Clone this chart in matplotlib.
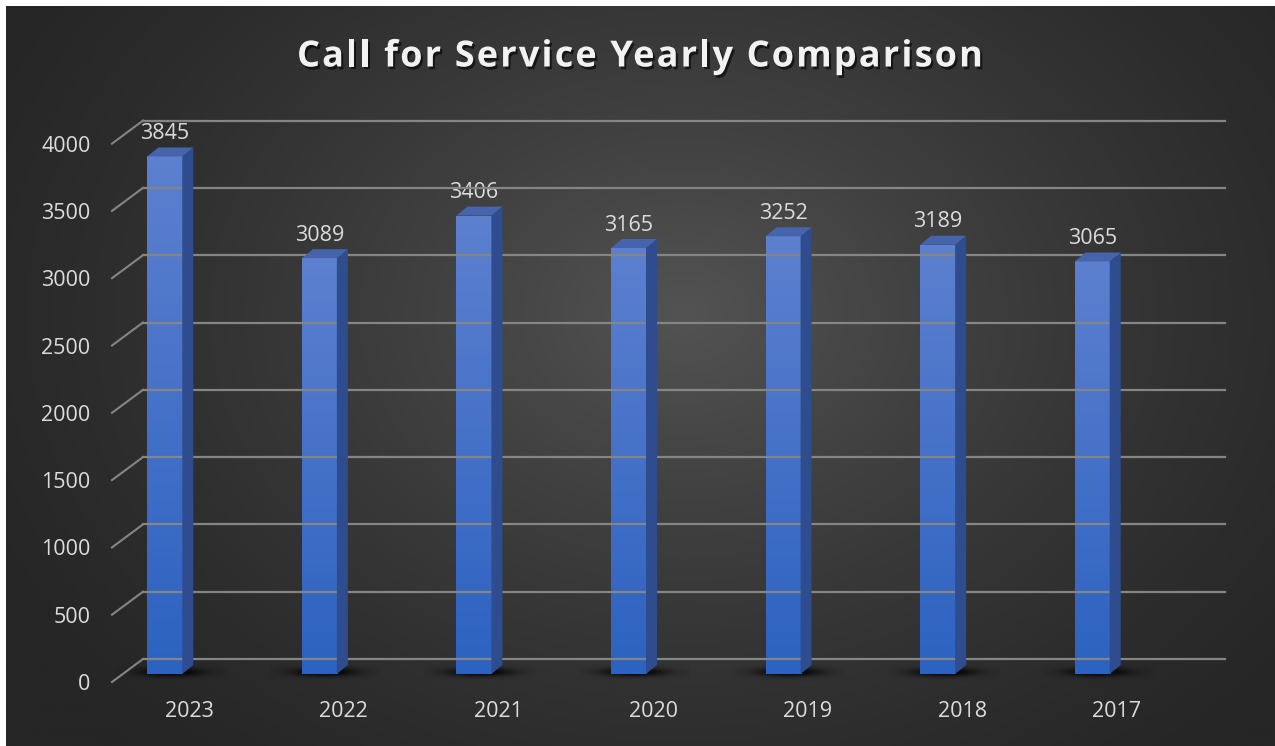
import numpy as np
import matplotlib
matplotlib.use("Agg")
import matplotlib.pyplot as plt
from matplotlib import transforms
from matplotlib.patches import Polygon
from matplotlib.lines import Line2D
import matplotlib.patheffects as pe

# ---- data ----
years = ["2023", "2022", "2021", "2020", "2019", "2018", "2017"]
calls = [3845, 3089, 3406, 3165, 3252, 3189, 3065]
y_ticks = [0, 500, 1000, 1500, 2000, 2500, 3000, 3500, 4000]
title = "Call for Service Yearly Comparison"

W, H = 1275, 746
plt.rcParams["font.family"] = ["Open Sans", "DejaVu Sans"]

fig = plt.figure(figsize=(W / 100, H / 100), dpi=100)
fig.patch.set_facecolor("white")
renderer = fig.canvas.get_renderer()

# ---- dark radial-gradient panel (pixel coordinates) ----
bg = fig.add_axes([0, 0, 1, 1])
bg.set_xlim(0, W)
bg.set_ylim(H, 0)
bg.axis("off")
yy, xx = np.mgrid[0:H, 0:W]
r = np.sqrt(((xx - 680) / (W * 0.62)) ** 2 + ((yy - 310) / (H * 0.80)) ** 2)
r = np.clip(r, 0, 1)
shade = (38 + 45 * (1 - r) ** 1.35) / 255.0
panel = np.dstack([shade, shade, shade])
bg.imshow(panel, extent=[6, W, H, 6], interpolation="bilinear", aspect="auto", zorder=0)

# ---- main axes: front edge of the floor ----
left_px, right_px = 112, 1194
bottom_px, top_px = 682, 143.6
ax = fig.add_axes([left_px / W, (H - bottom_px) / H,
                   (right_px - left_px) / W, (bottom_px - top_px) / H])
ax.patch.set_alpha(0)
ax.set_xlim(-0.5, len(years) - 0.5)
ax.set_ylim(0, 4000)
for s in ax.spines.values():
    s.set_visible(False)

label_color = "#dcdcdc"
label_size = 15.5
ax.set_yticks(y_ticks)
ax.set_yticklabels([str(t) for t in y_ticks])
ax.tick_params(axis="y", length=0, pad=15.5, labelsize=label_size, labelcolor=label_color)
ax.set_xticks(range(len(years)))
ax.set_xticklabels(years)
ax.tick_params(axis="x", length=0, pad=14, labelsize=label_size, labelcolor=label_color)

# depth offsets in display pixels
wall_dx, wall_dy = 31, 23     # back wall relative to front floor edge
bar_dx, bar_dy = -24.5, 8     # bar fronts relative to front floor edge
side_dx, side_dy = 11, 9      # bar depth (side / top faces)

to_disp = ax.transData
grid_color = "#858585"
for v in y_ticks:
    x0, y0 = to_disp.transform((-0.5, v))
    x1, y1 = to_disp.transform((len(years) - 0.5, v))
    # diagonal along the side wall
    fig.add_artist(Line2D([x0, x0 + wall_dx], [y0, y0 + wall_dy],
                          transform=transforms.IdentityTransform(),
                          color=grid_color, lw=1.5, zorder=1))
    # back wall line
    fig.add_artist(Line2D([x0 + wall_dx, x1 + wall_dx], [y0 + wall_dy, y1 + wall_dy],
                          transform=transforms.IdentityTransform(),
                          color=grid_color, lw=1.6, zorder=1))

bar_trans = transforms.offset_copy(ax.transData, fig=fig, x=bar_dx, y=bar_dy, units="dots")
bar_w = 0.2265

# soft floor shadow blob
sy, sx = np.mgrid[-1:1:60j, -1:1:200j]
blob = np.exp(-((sx / 0.7) ** 2 + (sy / 0.55) ** 2) * 1.6)
shadow_img = np.zeros((60, 200, 4))
shadow_img[..., 3] = np.clip(blob * 1.1, 0, 0.95)

front_grad = np.linspace(0, 1, 256)[:, None]
top_col = np.array([93, 128, 207]) / 255
bot_col = np.array([44, 98, 192]) / 255
front_img = (top_col[None, None, :] * (1 - front_grad[..., None]) +
             bot_col[None, None, :] * front_grad[..., None])

for i, v in enumerate(calls):
    xl, yb = bar_trans.transform((i - bar_w / 2, 0))
    xr, yt = bar_trans.transform((i + bar_w / 2, v))
    # shadow on the floor
    cxs = (xl + xr) / 2 + 6
    cys = H - yb - 2
    bg.imshow(shadow_img, extent=[cxs - 56, cxs + 56, cys + 10, cys - 10],
              interpolation="bilinear", aspect="auto", zorder=1)

    # front face with vertical gradient
    bars = ax.bar(i, v, width=bar_w, transform=bar_trans, color=bot_col,
                  linewidth=0, zorder=3)
    rect = bars.patches[0]
    im = ax.imshow(front_img, extent=[i - bar_w / 2, i + bar_w / 2, 0, v],
                   transform=bar_trans, aspect="auto", interpolation="bilinear", zorder=3.1)
    im.set_clip_path(rect)

    # side face
    side = Polygon([(xr, yb), (xr, yt), (xr + side_dx, yt + side_dy), (xr + side_dx, yb + side_dy)],
                   closed=True, transform=transforms.IdentityTransform(),
                   facecolor="#2e4c8e", edgecolor="none", zorder=3)
    fig.add_artist(side)
    # top face
    top = Polygon([(xl, yt), (xr, yt), (xr + side_dx, yt + side_dy), (xl + side_dx, yt + side_dy)],
                  closed=True, transform=transforms.IdentityTransform(),
                  facecolor="#4564ab", edgecolor="none", zorder=3)
    fig.add_artist(top)

    # value label
    ax.annotate(str(v), xy=(i, v), xycoords=bar_trans, xytext=(0, 12.5),
                textcoords="offset points", ha="center", va="baseline",
                fontsize=label_size, color=label_color, zorder=5)

# ---- title with widened letter spacing ----
title_kw = dict(fontsize=26, fontweight="bold")


def text_width(s):
    t = bg.text(0, 0, s, **title_kw)
    w = t.get_window_extent(renderer).width
    t.remove()
    return w


title_width = 686
natural = text_width(title)
spacing = (title_width - natural) / (len(title) - 1)
x_start = 640 - title_width / 2
shadow_fx = [pe.withSimplePatchShadow(offset=(1.5, -2), shadow_rgbFace="black", alpha=0.6)]
for k, ch in enumerate(title):
    if ch == " ":
        continue
    pos = text_width(title[:k + 1]) - text_width(ch)
    bg.text(x_start + pos + k * spacing, 66.5, ch, ha="left", va="baseline",
            color="#f2f2f2", path_effects=shadow_fx, zorder=6, **title_kw)

fig.savefig("out.png", dpi=100, facecolor=fig.get_facecolor())
